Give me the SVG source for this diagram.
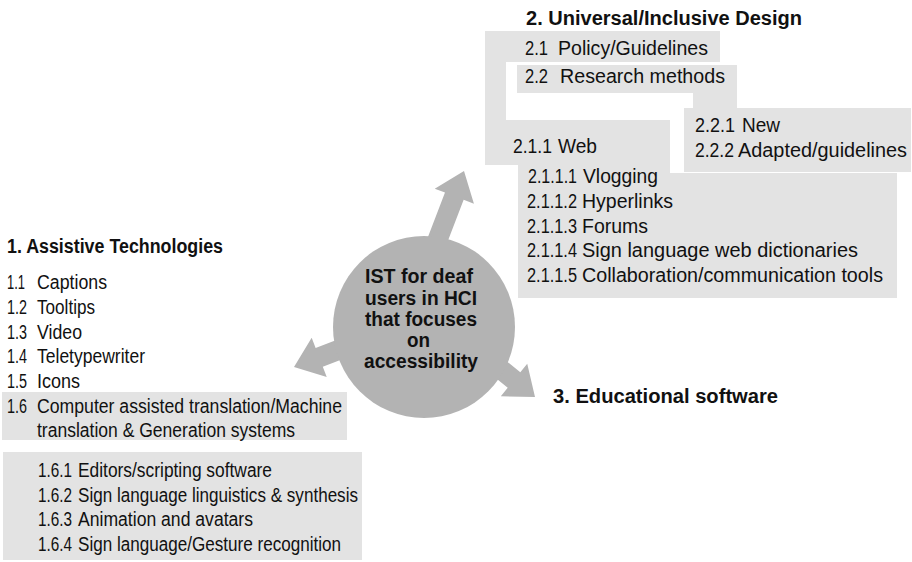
<svg xmlns="http://www.w3.org/2000/svg" width="912" height="562" viewBox="0 0 912 562">
  <defs>
    <style>
      .bg { fill: #ffffff; }
      .box { fill: #e3e3e3; }
      .hub { fill: #b3b3b3; }
      text { font-family: "Liberation Sans", Arial, sans-serif; fill: #111; }
      .title { font-weight: bold; font-size: 20px; }
      .hubtxt { font-weight: bold; font-size: 20px; }
      .item { font-size: 19.5px; }
    </style>
    <!-- block arrow pointing along +x, tip at the origin -->
    <polygon id="blockArrow" points="0,0 -27,-21 -27,-10 -130,-10 -130,10 -27,10 -27,21"/>
  </defs>

  <rect class="bg" x="0" y="0" width="912" height="562"/>

  <!-- connectors: three block arrows radiating from the hub -->
  <g id="connectors" class="hub">
    <use href="#blockArrow" transform="translate(464,171) rotate(-69)"/>
    <use href="#blockArrow" transform="translate(294,367) rotate(159)"/>
    <use href="#blockArrow" transform="translate(535,397) rotate(39)"/>
  </g>

  <!-- central hub -->
  <g id="hub">
    <circle class="hub" cx="424" cy="327" r="91"/>
    <text class="hubtxt" x="365" y="283" textLength="108" lengthAdjust="spacingAndGlyphs">IST for deaf</text>
    <text class="hubtxt" x="365" y="305" textLength="112" lengthAdjust="spacingAndGlyphs">users in HCI</text>
    <text class="hubtxt" x="365" y="326" textLength="112" lengthAdjust="spacingAndGlyphs">that focuses</text>
    <text class="hubtxt" x="407" y="347" textLength="23" lengthAdjust="spacingAndGlyphs">on</text>
    <text class="hubtxt" x="364" y="368" textLength="114" lengthAdjust="spacingAndGlyphs">accessibility</text>
  </g>

  <!-- 1. Assistive Technologies -->
  <g id="assistive">
    <text class="title" x="7" y="253" textLength="216" lengthAdjust="spacingAndGlyphs">1. Assistive Technologies</text>
    <text class="item" x="7" y="289" textLength="18" lengthAdjust="spacingAndGlyphs">1.1</text>
    <text class="item" x="37" y="289" textLength="70" lengthAdjust="spacingAndGlyphs">Captions</text>
    <text class="item" x="7" y="314" textLength="20" lengthAdjust="spacingAndGlyphs">1.2</text>
    <text class="item" x="37" y="314" textLength="58" lengthAdjust="spacingAndGlyphs">Tooltips</text>
    <text class="item" x="7" y="339" textLength="20" lengthAdjust="spacingAndGlyphs">1.3</text>
    <text class="item" x="37" y="339" textLength="45" lengthAdjust="spacingAndGlyphs">Video</text>
    <text class="item" x="7" y="363" textLength="20" lengthAdjust="spacingAndGlyphs">1.4</text>
    <text class="item" x="37" y="363" textLength="108" lengthAdjust="spacingAndGlyphs">Teletypewriter</text>
    <text class="item" x="7" y="388" textLength="20" lengthAdjust="spacingAndGlyphs">1.5</text>
    <text class="item" x="37" y="388" textLength="43" lengthAdjust="spacingAndGlyphs">Icons</text>
  </g>

  <g id="translation">
    <rect class="box" x="2" y="392" width="345" height="48"/>
    <text class="item" x="7" y="413" textLength="20" lengthAdjust="spacingAndGlyphs">1.6</text>
    <text class="item" x="37" y="413" textLength="305" lengthAdjust="spacingAndGlyphs">Computer assisted translation/Machine</text>
    <text class="item" x="37" y="437" textLength="258" lengthAdjust="spacingAndGlyphs">translation &amp; Generation systems</text>
  </g>

  <g id="translation-sub">
    <rect class="box" x="3" y="452" width="359" height="108"/>
    <text class="item" x="38" y="477" textLength="34" lengthAdjust="spacingAndGlyphs">1.6.1</text>
    <text class="item" x="78" y="477" textLength="194" lengthAdjust="spacingAndGlyphs">Editors/scripting software</text>
    <text class="item" x="38" y="502" textLength="34" lengthAdjust="spacingAndGlyphs">1.6.2</text>
    <text class="item" x="78" y="502" textLength="280" lengthAdjust="spacingAndGlyphs">Sign language linguistics &amp; synthesis</text>
    <text class="item" x="38" y="526" textLength="34" lengthAdjust="spacingAndGlyphs">1.6.3</text>
    <text class="item" x="78" y="526" textLength="175" lengthAdjust="spacingAndGlyphs">Animation and avatars</text>
    <text class="item" x="38" y="551" textLength="34" lengthAdjust="spacingAndGlyphs">1.6.4</text>
    <text class="item" x="78" y="551" textLength="263" lengthAdjust="spacingAndGlyphs">Sign language/Gesture recognition</text>
  </g>

  <!-- 2. Universal/Inclusive Design -->
  <g id="universal">
    <text class="title" x="526" y="25" textLength="276" lengthAdjust="spacingAndGlyphs">2. Universal/Inclusive Design</text>
    <rect class="box" x="485" y="31" width="235" height="31"/>
    <rect class="box" x="485" y="31" width="21" height="134"/>
    <text class="item" x="525" y="55" textLength="23" lengthAdjust="spacingAndGlyphs">2.1</text>
    <text class="item" x="558" y="55" textLength="150" lengthAdjust="spacingAndGlyphs">Policy/Guidelines</text>
  </g>

  <g id="research">
    <rect class="box" x="517" y="65" width="220" height="28"/>
    <rect class="box" x="693" y="92" width="44" height="17"/>
    <text class="item" x="525" y="83" textLength="23" lengthAdjust="spacingAndGlyphs">2.2</text>
    <text class="item" x="560" y="83" textLength="165" lengthAdjust="spacingAndGlyphs">Research methods</text>
  </g>

  <g id="research-sub">
    <rect class="box" x="684" y="108" width="227" height="64"/>
    <text class="item" x="695" y="132" textLength="40" lengthAdjust="spacingAndGlyphs">2.2.1</text>
    <text class="item" x="742" y="132" textLength="38" lengthAdjust="spacingAndGlyphs">New</text>
    <text class="item" x="695" y="157" textLength="39" lengthAdjust="spacingAndGlyphs">2.2.2</text>
    <text class="item" x="738" y="157" textLength="169" lengthAdjust="spacingAndGlyphs">Adapted/guidelines</text>
  </g>

  <g id="web">
    <rect class="box" x="485" y="120" width="185" height="45"/>
    <rect class="box" x="518" y="160" width="152" height="15"/>
    <text class="item" x="513" y="153" textLength="39" lengthAdjust="spacingAndGlyphs">2.1.1</text>
    <text class="item" x="558" y="153" textLength="39" lengthAdjust="spacingAndGlyphs">Web</text>
  </g>

  <g id="web-sub">
    <rect class="box" x="518" y="173" width="379" height="125"/>
    <text class="item" x="528" y="183" textLength="49" lengthAdjust="spacingAndGlyphs">2.1.1.1</text>
    <text class="item" x="583" y="183" textLength="75" lengthAdjust="spacingAndGlyphs">Vlogging</text>
    <text class="item" x="527" y="208" textLength="50" lengthAdjust="spacingAndGlyphs">2.1.1.2</text>
    <text class="item" x="582" y="208" textLength="91" lengthAdjust="spacingAndGlyphs">Hyperlinks</text>
    <text class="item" x="527" y="233" textLength="50" lengthAdjust="spacingAndGlyphs">2.1.1.3</text>
    <text class="item" x="582" y="233" textLength="66" lengthAdjust="spacingAndGlyphs">Forums</text>
    <text class="item" x="527" y="257" textLength="50" lengthAdjust="spacingAndGlyphs">2.1.1.4</text>
    <text class="item" x="582" y="257" textLength="276" lengthAdjust="spacingAndGlyphs">Sign language web dictionaries</text>
    <text class="item" x="527" y="282" textLength="50" lengthAdjust="spacingAndGlyphs">2.1.1.5</text>
    <text class="item" x="582" y="282" textLength="301" lengthAdjust="spacingAndGlyphs">Collaboration/communication tools</text>
  </g>

  <!-- 3. Educational software -->
  <g id="educational">
    <text class="title" x="553" y="403" textLength="225" lengthAdjust="spacingAndGlyphs">3. Educational software</text>
  </g>
</svg>
